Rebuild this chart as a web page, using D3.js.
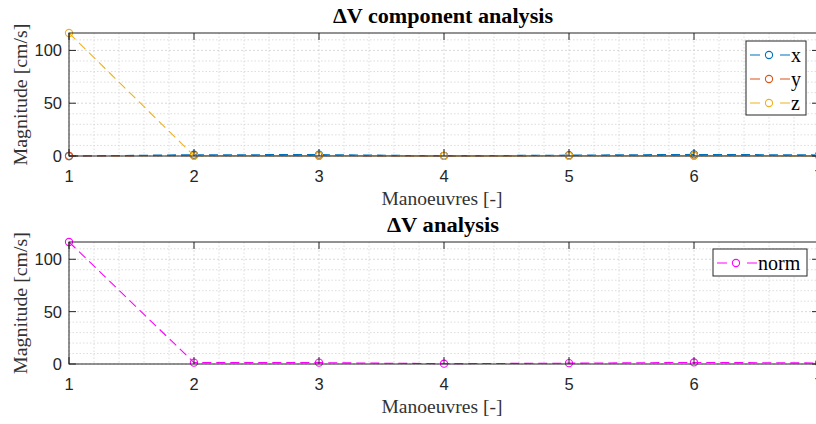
<!DOCTYPE html>
<html>
<head>
<meta charset="utf-8">
<script src="https://cdn.jsdelivr.net/npm/d3@7.9.0/dist/d3.min.js"></script>
<style>
  html, body { margin: 0; padding: 0; background: #fff; overflow: hidden; }
  svg { display: block; }
</style>
</head>
<body>
<svg id="chart" width="816" height="424"></svg>
<script>
// manoeuvre index
const manoeuvres = [1, 2, 3, 4, 5, 6, 7];

// delta-V components [cm/s]
const dvX = [0.0, 1.2, 1.3, 0.2, 0.8, 1.5, 1.0];
const dvY = [0.0, 0.3, 0.2, 0.1, 0.2, 0.3, 0.2];
const dvZ = [116.5, 0.2, 0.3, 0.1, 0.2, 0.3, 0.1];

// delta-V norm [cm/s]
const dvNorm = [116.5, 1.3, 1.3, 0.3, 0.8, 1.5, 1.0];

const xTicks = [1, 2, 3, 4, 5, 6, 7];
const yTicks = [0, 50, 100];

const topSeries = [
  { name: 'x', values: dvX, color: '#0072BD' },
  { name: 'y', values: dvY, color: '#D95319' },
  { name: 'z', values: dvZ, color: '#EDB120' }
];
const bottomSeries = [
  { name: 'norm', values: dvNorm, color: '#FF00FF' }
];

const svg = d3.select('#chart');
const axisColor = '#262626';
const serif = '"Liberation Serif", "Times New Roman", serif';
const sans = '"Liberation Sans", Arial, sans-serif';

// pin a text to the width
function fitText(sel, width) {
  return sel.attr('textLength', width).attr('lengthAdjust', 'spacingAndGlyphs');
}

// -----------------------------
// drawPanel: one MATLAB-style subplot
// -----------------------------
function drawPanel(opts) {
  const { top, bottom, title, titleW, series, legend } = opts;
  const left = 69, right = 819;

  const x = d3.scaleLinear().domain([1, 7]).range([left, right]);
  const y = d3.scaleLinear().domain([0, 116.5]).range([bottom, top]);

  const g = svg.append('g');

  // minor grid
  const xMinor = d3.range(1, 7.001, 0.2).filter(v => Math.abs(v - Math.round(v)) > 1e-6);
  const yMinor = d3.range(0, 116.5, 10).filter(v => v % 50 !== 0);
  g.selectAll('.xminor').data(xMinor).join('line')
    .attr('x1', d => x(d)).attr('x2', d => x(d))
    .attr('y1', top).attr('y2', bottom)
    .attr('stroke', '#d4d4d4').attr('stroke-width', 0.8)
    .attr('stroke-dasharray', '1.5,2');
  g.selectAll('.yminor').data(yMinor).join('line')
    .attr('x1', left).attr('x2', right)
    .attr('y1', d => y(d)).attr('y2', d => y(d))
    .attr('stroke', '#d4d4d4').attr('stroke-width', 0.8)
    .attr('stroke-dasharray', '1.5,2');

  // major grid
  g.selectAll('.xmajor').data(xTicks).join('line')
    .attr('x1', d => x(d)).attr('x2', d => x(d))
    .attr('y1', top).attr('y2', bottom)
    .attr('stroke', '#cfcfcf').attr('stroke-width', 0.8)
    .attr('stroke-dasharray', '2,2');
  g.selectAll('.ymajor').data(yTicks).join('line')
    .attr('x1', left).attr('x2', right)
    .attr('y1', d => y(d)).attr('y2', d => y(d))
    .attr('stroke', '#cfcfcf').attr('stroke-width', 0.8)
    .attr('stroke-dasharray', '2,2');

  // series
  const line = d3.line().x((d, i) => x(manoeuvres[i])).y(d => y(d));
  series.forEach(s => {
    g.append('path')
      .datum(s.values)
      .attr('d', line)
      .attr('fill', 'none')
      .attr('stroke', s.color)
      .attr('stroke-width', 1.1)
      .attr('stroke-dasharray', '9,5');
    g.selectAll(null).data(s.values).join('circle')
      .attr('cx', (d, i) => x(manoeuvres[i]))
      .attr('cy', d => y(d))
      .attr('r', 3.6)
      .attr('fill', 'none')
      .attr('stroke', s.color)
      .attr('stroke-width', 1.1);
  });

  // box + ticks (inward)
  const tickLen = 7;
  g.append('rect')
    .attr('x', left).attr('y', top)
    .attr('width', right - left).attr('height', bottom - top)
    .attr('fill', 'none').attr('stroke', axisColor).attr('stroke-width', 1);

  xTicks.forEach(t => {
    g.append('line').attr('x1', x(t)).attr('x2', x(t))
      .attr('y1', bottom).attr('y2', bottom - tickLen)
      .attr('stroke', axisColor);
    g.append('line').attr('x1', x(t)).attr('x2', x(t))
      .attr('y1', top).attr('y2', top + tickLen)
      .attr('stroke', axisColor);
  });
  yTicks.forEach(t => {
    g.append('line').attr('x1', left).attr('x2', left + tickLen)
      .attr('y1', y(t)).attr('y2', y(t))
      .attr('stroke', axisColor);
    g.append('line').attr('x1', right).attr('x2', right - tickLen)
      .attr('y1', y(t)).attr('y2', y(t))
      .attr('stroke', axisColor);
  });

  // tick labels
  g.selectAll('.xlab').data(xTicks).join('text')
    .attr('x', d => x(d)).attr('y', bottom + 26)
    .attr('text-anchor', 'middle')
    .attr('font-family', sans).attr('font-size', 16.5)
    .attr('fill', axisColor)
    .text(d => d);
  g.selectAll('.ylab').data(yTicks).join('text')
    .attr('x', left - 7).attr('y', d => y(d) + 6)
    .attr('text-anchor', 'end')
    .attr('font-family', sans).attr('font-size', 16.5)
    .attr('fill', axisColor)
    .text(d => d);

  // axis titles
  g.append('text')
    .attr('x', 442).attr('y', bottom + 49)
    .attr('text-anchor', 'middle')
    .attr('font-family', serif).attr('font-size', 19.5)
    .attr('fill', '#333')
    .text('Manoeuvres [-]')
    .call(fitText, 121);
  g.append('text')
    .attr('transform', `translate(27,${(top + bottom) / 2}) rotate(-90)`)
    .attr('text-anchor', 'middle')
    .attr('font-family', serif).attr('font-size', 19.5)
    .attr('fill', '#333')
    .text('Magnitude [cm/s]')
    .call(fitText, 142);

  // title
  g.append('text')
    .attr('x', 443).attr('y', top - 10)
    .attr('text-anchor', 'middle')
    .attr('font-family', serif).attr('font-size', 20.5)
    .attr('font-weight', 'bold')
    .attr('fill', '#000')
    .text(title)
    .call(fitText, titleW);

  // legend
  const lg = g.append('g');
  lg.append('rect')
    .attr('x', legend.x).attr('y', legend.y)
    .attr('width', legend.w).attr('height', legend.h)
    .attr('fill', '#fff').attr('stroke', axisColor).attr('stroke-width', 1);
  series.forEach((s, i) => {
    const cy = legend.y + 14 + i * 24;
    const x0 = legend.x + 4, x1 = legend.x + 44;
    lg.append('line')
      .attr('x1', x0).attr('x2', x1).attr('y1', cy).attr('y2', cy)
      .attr('stroke', s.color).attr('stroke-width', 1.1)
      .attr('stroke-dasharray', '10,20,10');
    lg.append('circle')
      .attr('cx', (x0 + x1) / 2 - 1).attr('cy', cy).attr('r', 3.6)
      .attr('fill', 'none').attr('stroke', s.color).attr('stroke-width', 1.1);
    lg.append('text')
      .attr('x', x1 + 1).attr('y', cy + 7)
      .attr('font-family', serif).attr('font-size', 20)
      .attr('fill', '#000')
      .text(s.name);
  });
}

drawPanel({
  top: 33, bottom: 156,
  title: '\u0394V component analysis', titleW: 220,
  series: topSeries,
  legend: { x: 746, y: 41, w: 60, h: 74 }
});

drawPanel({
  top: 242, bottom: 364,
  title: '\u0394V analysis', titleW: 112,
  series: bottomSeries,
  legend: { x: 713, y: 249, w: 94, h: 27 }
});
</script>
</body>
</html>
